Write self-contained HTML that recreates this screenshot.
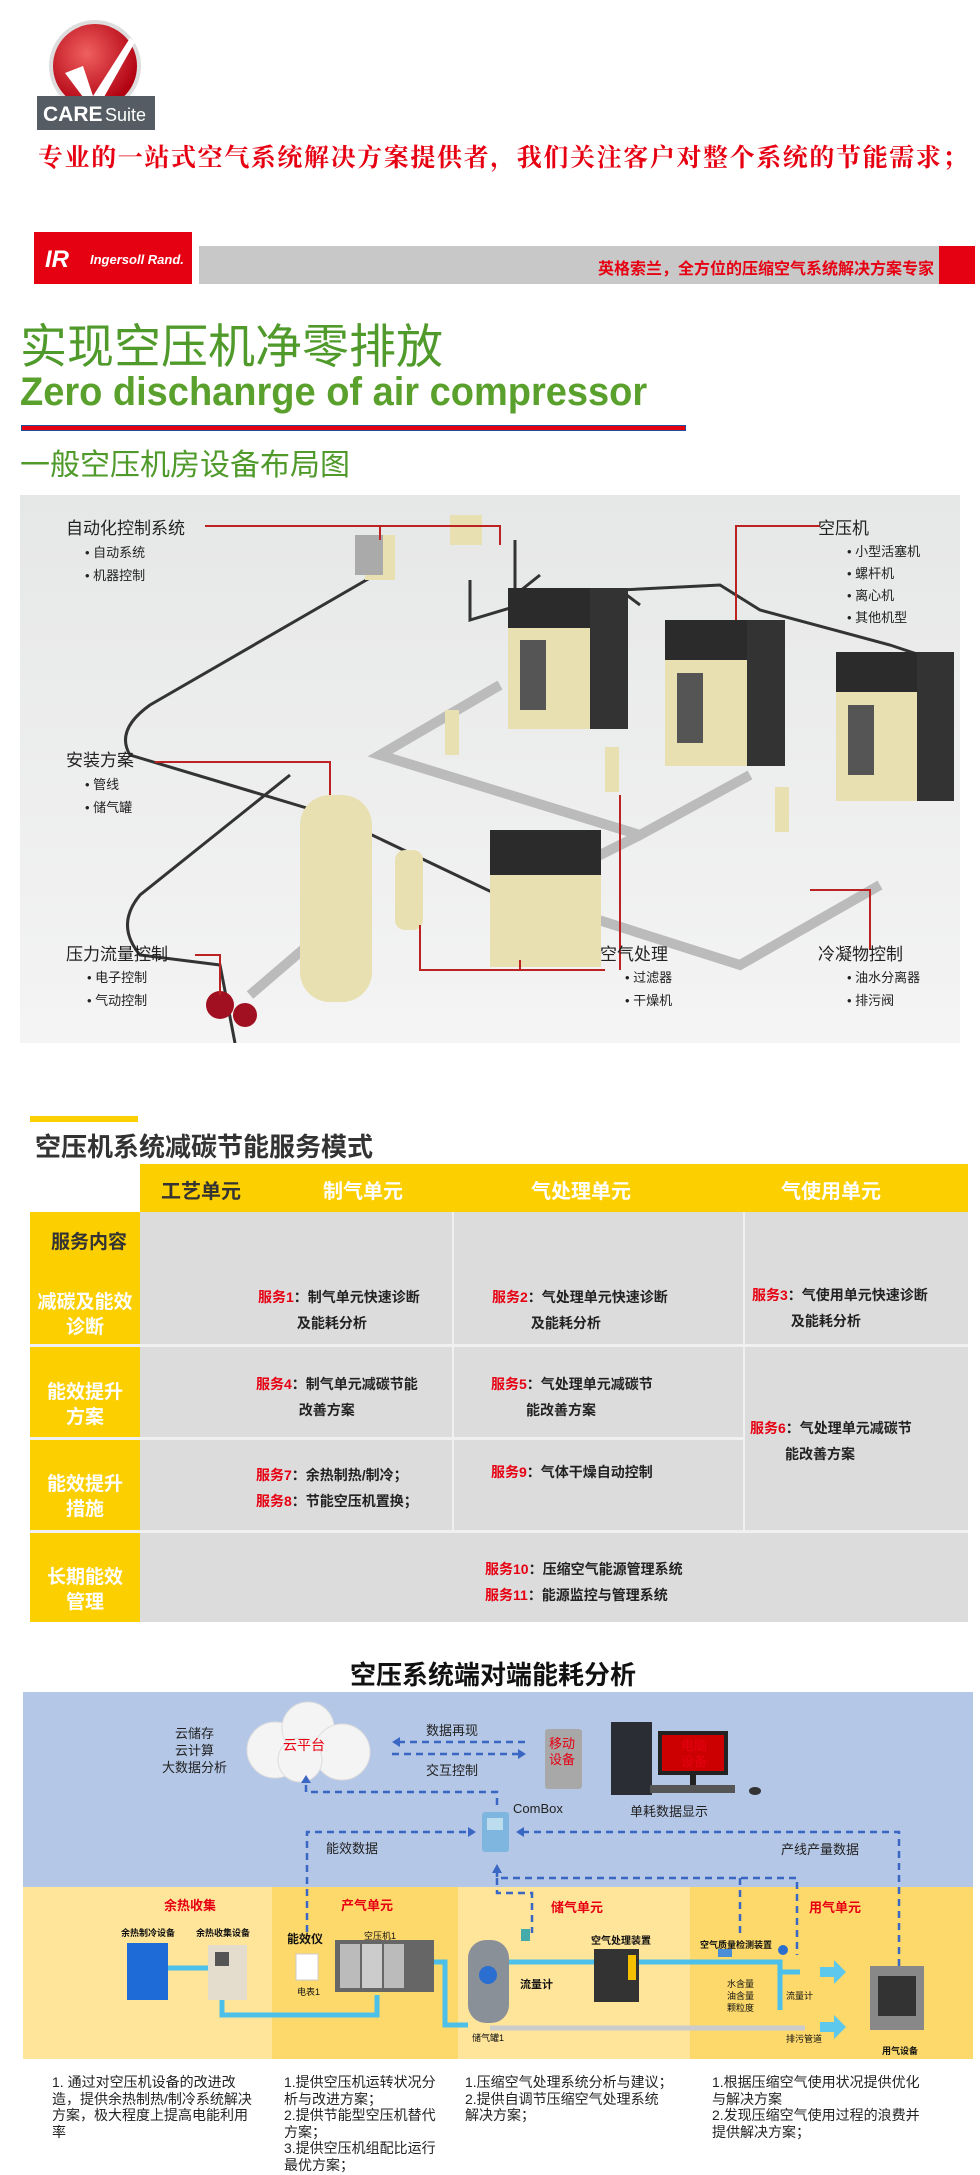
<!DOCTYPE html>
<html><head><meta charset="utf-8"><style>
*{margin:0;padding:0;box-sizing:border-box}
body{width:980px;height:2175px;background:#fff;position:relative;overflow:hidden;font-family:"Liberation Sans","Noto Sans CJK SC",sans-serif}
.a{position:absolute;white-space:nowrap}
.b{font-weight:bold}
.r{color:#e60012}
</style></head><body>

<svg class="a" style="left:35px;top:18px" width="130" height="115" viewBox="0 0 130 115">
<defs><radialGradient id="rg" cx="40%" cy="35%" r="65%"><stop offset="0" stop-color="#f06060"/><stop offset="1" stop-color="#b00010"/></radialGradient></defs>
<circle cx="60" cy="48" r="46" fill="#ddd"/><circle cx="60" cy="48" r="42" fill="url(#rg)"/>
<path d="M30 55 L48 48 L58 78 L95 20 L100 24 L60 95 Z" fill="#fff"/>
<rect x="2" y="78" width="118" height="34" fill="#555c63"/>
<text x="8" y="103" font-family="Liberation Sans" font-size="21" font-weight="bold" fill="#fff">CARE</text>
<text x="70" y="103" font-family="Liberation Sans" font-size="18" fill="#fff">Suite</text>
</svg>

<div class="a r b" style="left:38px;top:138px;font-size:25px;font-family:'Liberation Serif','Noto Serif CJK SC',serif;letter-spacing:1.6px">专业的一站式空气系统解决方案提供者，我们关注客户对整个系统的节能需求；</div>

<div class="a" style="left:34px;top:232px;width:158px;height:52px;background:#e50012"></div>
<div class="a b" style="left:45px;top:246px;color:#fff;font-size:24px;font-style:italic">IR</div>
<div class="a" style="left:90px;top:252px;color:#fff;font-size:13px;font-style:italic;font-weight:bold">Ingersoll Rand.</div>
<div class="a" style="left:199px;top:246px;width:740px;height:38px;background:#c8c8c8"></div>
<div class="a" style="left:939px;top:246px;width:36px;height:38px;background:#e50012"></div>
<div class="a r b" style="left:598px;top:255px;font-size:16px">英格索兰，全方位的压缩空气系统解决方案专家</div>

<div class="a" style="left:20px;top:308px;font-size:47px;color:#4f9a2a;font-family:'Liberation Sans','WenQuanYi Zen Hei',sans-serif">实现空压机净零排放</div>
<div class="a b" style="left:20px;top:370px;font-size:40px;color:#5aa02c;transform:scaleX(0.95);transform-origin:left">Zero dischanrge of air compressor</div>
<div class="a" style="left:21px;top:425px;width:665px;height:6px;background:#e50012;border:1px solid #1f4e9a"></div>
<div class="a" style="left:20px;top:440px;font-size:30px;color:#4f9a2a">一般空压机房设备布局图</div>

<svg class="a" style="left:20px;top:495px" width="940" height="548" viewBox="0 0 940 548">
<defs><linearGradient id="bg" x1="0" y1="0" x2="0" y2="1"><stop offset="0" stop-color="#e6e7e7"/><stop offset="1" stop-color="#f4f4f4"/></linearGradient></defs>
<rect width="940" height="548" fill="url(#bg)"/>
<g fill="none" stroke="#333" stroke-width="3">
<path d="M355 80 L130 210 Q95 235 110 260 L310 320 L520 420"/>
<path d="M270 280 L120 400 Q95 430 120 460 L200 470 L215 548"/>
<path d="M450 85 L450 125 L500 110 L600 95 L620 110"/>
<path d="M495 45 L495 100 L520 80"/>
<path d="M600 95 L700 90 L740 115 L870 150 L900 160"/>
</g>
<g stroke="#bbb" stroke-width="10" fill="none">
<path d="M480 190 L360 260 L620 340 L730 280"/>
<path d="M620 340 L500 400 L720 470 L860 390"/>
<path d="M300 440 L230 500"/>
</g>
<g>
<rect x="488" y="93" width="120" height="141" fill="#e8e0b0"/><rect x="488" y="93" width="120" height="40" fill="#2b2b2b"/><rect x="570" y="93" width="38" height="141" fill="#333"/><rect x="500" y="145" width="26" height="70" fill="#555"/>
<rect x="645" y="125" width="120" height="146" fill="#e8e0b0"/><rect x="645" y="125" width="120" height="40" fill="#2b2b2b"/><rect x="727" y="125" width="38" height="146" fill="#333"/><rect x="657" y="178" width="26" height="70" fill="#555"/>
<rect x="816" y="157" width="118" height="149" fill="#e8e0b0"/><rect x="816" y="157" width="118" height="40" fill="#2b2b2b"/><rect x="897" y="157" width="37" height="149" fill="#333"/><rect x="828" y="210" width="26" height="70" fill="#555"/>
<rect x="280" y="300" width="72" height="207" rx="30" fill="#e8e0b0"/>
<rect x="470" y="335" width="111" height="137" fill="#e8e0b0"/><rect x="470" y="335" width="111" height="45" fill="#2b2b2b"/>
<rect x="375" y="355" width="28" height="80" rx="10" fill="#e8e0b0"/>
<rect x="345" y="40" width="30" height="45" fill="#e8e0b0"/><rect x="430" y="20" width="32" height="30" fill="#e8e0b0"/><rect x="335" y="40" width="28" height="40" fill="#aaa"/>
<rect x="425" y="215" width="14" height="45" fill="#e8e0b0"/><rect x="585" y="252" width="14" height="45" fill="#e8e0b0"/><rect x="755" y="292" width="14" height="45" fill="#e8e0b0"/>
<circle cx="200" cy="510" r="14" fill="#a01020"/><circle cx="225" cy="520" r="12" fill="#a01020"/>
</g>
<g stroke="#b22" stroke-width="2" fill="none">
<path d="M185 31 L480 31 L480 50"/><path d="M360 31 L360 45"/>
<path d="M800 31 L716 31 L716 125"/>
<path d="M135 267 L310 267 L310 300"/>
<path d="M175 460 L200 460 L200 500"/>
<path d="M585 475 L400 475 L400 430"/><path d="M500 475 L500 465"/><path d="M600 475 L600 300"/>
<path d="M850 455 L850 395 L790 395"/>
</g>
</svg>
<div class="a" style="left:66px;top:514px;font-size:17px;color:#222">自动化控制系统</div>
<div class="a" style="left:85px;top:541px;font-size:13px;color:#222;line-height:23px">• 自动系统<br>• 机器控制</div>
<div class="a" style="left:818px;top:514px;font-size:17px;color:#222">空压机</div>
<div class="a" style="left:847px;top:541px;font-size:13px;color:#222;line-height:22px">• 小型活塞机<br>• 螺杆机<br>• 离心机<br>• 其他机型</div>
<div class="a" style="left:66px;top:746px;font-size:17px;color:#222">安装方案</div>
<div class="a" style="left:85px;top:773px;font-size:13px;color:#222;line-height:23px">• 管线<br>• 储气罐</div>
<div class="a" style="left:66px;top:940px;font-size:17px;color:#222">压力流量控制</div>
<div class="a" style="left:87px;top:966px;font-size:13px;color:#222;line-height:23px">• 电子控制<br>• 气动控制</div>
<div class="a" style="left:600px;top:940px;font-size:17px;color:#222">空气处理</div>
<div class="a" style="left:625px;top:966px;font-size:13px;color:#222;line-height:23px">• 过滤器<br>• 干燥机</div>
<div class="a" style="left:818px;top:940px;font-size:17px;color:#222">冷凝物控制</div>
<div class="a" style="left:847px;top:966px;font-size:13px;color:#222;line-height:23px">• 油水分离器<br>• 排污阀</div>

<div class="a" style="left:30px;top:1116px;width:108px;height:6px;background:#fccf00"></div>
<div class="a b" style="left:35px;top:1127px;font-size:26px;color:#333">空压机系统减碳节能服务模式</div>
<div class="a" style="left:140px;top:1164px;width:828px;height:48px;background:#fccf00"></div>
<div class="a" style="left:140px;top:1212px;width:828px;height:410px;background:#dcdcdc"></div>
<div class="a" style="left:30px;top:1212px;width:110px;height:410px;background:#fccf00"></div>
<div class="a" style="left:30px;top:1344px;width:938px;height:3px;background:#f0f0f0"></div>
<div class="a" style="left:30px;top:1437px;width:714px;height:3px;background:#f0f0f0"></div>
<div class="a" style="left:30px;top:1530px;width:938px;height:3px;background:#f0f0f0"></div>
<div class="a" style="left:452px;top:1212px;width:2px;height:318px;background:#f0f0f0"></div>
<div class="a" style="left:743px;top:1212px;width:2px;height:318px;background:#f0f0f0"></div>
<div class="a b" style="left:161px;top:1175px;font-size:20px;color:#333">工艺单元</div>
<div class="a b" style="left:323px;top:1175px;font-size:20px;color:#fff">制气单元</div>
<div class="a b" style="left:531px;top:1175px;font-size:20px;color:#fff">气处理单元</div>
<div class="a b" style="left:781px;top:1175px;font-size:20px;color:#fff">气使用单元</div>
<div class="a b" style="left:51px;top:1227px;font-size:19px;color:#333">服务内容</div>
<div class="a b" style="left:30px;top:1290px;width:110px;text-align:center;font-size:19px;color:#fff;line-height:25px">减碳及能效<br>诊断</div>
<div class="a b" style="left:30px;top:1380px;width:110px;text-align:center;font-size:19px;color:#fff;line-height:25px">能效提升<br>方案</div>
<div class="a b" style="left:30px;top:1472px;width:110px;text-align:center;font-size:19px;color:#fff;line-height:25px">能效提升<br>措施</div>
<div class="a b" style="left:30px;top:1565px;width:110px;text-align:center;font-size:19px;color:#fff;line-height:25px">长期能效<br>管理</div>
<div class="a b" style="left:258px;top:1284px;font-size:14px;color:#222;line-height:26px"><span class="r">服务1</span>：制气单元快速诊断<br>&nbsp;&nbsp;&nbsp;&nbsp;&nbsp;&nbsp;&nbsp;&nbsp;&nbsp;&nbsp;及能耗分析</div>
<div class="a b" style="left:492px;top:1284px;font-size:14px;color:#222;line-height:26px"><span class="r">服务2</span>：气处理单元快速诊断<br>&nbsp;&nbsp;&nbsp;&nbsp;&nbsp;&nbsp;&nbsp;&nbsp;&nbsp;&nbsp;及能耗分析</div>
<div class="a b" style="left:752px;top:1282px;font-size:14px;color:#222;line-height:26px"><span class="r">服务3</span>：气使用单元快速诊断<br>&nbsp;&nbsp;&nbsp;&nbsp;&nbsp;&nbsp;&nbsp;&nbsp;&nbsp;&nbsp;及能耗分析</div>
<div class="a b" style="left:256px;top:1371px;font-size:14px;color:#222;line-height:26px"><span class="r">服务4</span>：制气单元减碳节能<br>&nbsp;&nbsp;&nbsp;&nbsp;&nbsp;&nbsp;&nbsp;&nbsp;&nbsp;&nbsp;&nbsp;改善方案</div>
<div class="a b" style="left:491px;top:1371px;font-size:14px;color:#222;line-height:26px"><span class="r">服务5</span>：气处理单元减碳节<br>&nbsp;&nbsp;&nbsp;&nbsp;&nbsp;&nbsp;&nbsp;&nbsp;&nbsp;能改善方案</div>
<div class="a b" style="left:750px;top:1415px;font-size:14px;color:#222;line-height:26px"><span class="r">服务6</span>：气处理单元减碳节<br>&nbsp;&nbsp;&nbsp;&nbsp;&nbsp;&nbsp;&nbsp;&nbsp;&nbsp;能改善方案</div>
<div class="a b" style="left:256px;top:1462px;font-size:14px;color:#222;line-height:26px"><span class="r">服务7</span>：余热制热/制冷；<br><span class="r">服务8</span>：节能空压机置换；</div>
<div class="a b" style="left:491px;top:1462px;font-size:14px;color:#222"><span class="r">服务9</span>：气体干燥自动控制</div>
<div class="a b" style="left:485px;top:1556px;font-size:14px;color:#222;line-height:26px"><span class="r">服务10</span>：压缩空气能源管理系统<br><span class="r">服务11</span>：能源监控与管理系统</div>

<div class="a b" style="left:350px;top:1655px;font-size:26px;color:#111">空压系统端对端能耗分析</div>
<div class="a" style="left:23px;top:1692px;width:950px;height:195px;background:#b4c7e7"></div>
<div class="a" style="left:23px;top:1887px;width:249px;height:172px;background:#fee59a"></div>
<div class="a" style="left:272px;top:1887px;width:186px;height:172px;background:#fdd96b"></div>
<div class="a" style="left:458px;top:1887px;width:232px;height:172px;background:#fee59a"></div>
<div class="a" style="left:690px;top:1887px;width:283px;height:172px;background:#fdd96b"></div>

<svg class="a" style="left:0;top:1692px" width="980" height="370" viewBox="0 1692 980 370">
<g fill="#f4f4f4" stroke="#ddd"><circle cx="275" cy="1750" r="28"/><circle cx="308" cy="1728" r="26"/><circle cx="342" cy="1752" r="28"/><circle cx="300" cy="1760" r="22"/></g>
<g stroke="#3a66c4" stroke-width="2.5" stroke-dasharray="7,5" fill="none">
<path d="M525 1742 L395 1742"/><path d="M392 1754 L522 1754"/>
<path d="M497 1805 L497 1792 L306 1792 L306 1778"/>
<path d="M307 1932 L307 1832 L473 1832"/>
<path d="M899 1978 L899 1832 L520 1832"/>
<path d="M497 1870 L497 1878 L797 1878 L797 1955"/><path d="M740 1878 L740 1933"/>
<path d="M497 1878 L497 1893 L532 1893 L532 1933"/>
</g>
<g fill="#3a66c4"><path d="M392 1742 l8 -5 v10z"/><path d="M526 1754 l-8 -5 v10z"/><path d="M306 1775 l-5 8 h10z"/><path d="M476 1832 l-8 -5 v10z"/><path d="M516 1832 l8 -5 v10z"/><path d="M497 1864 l-5 9 h10z"/></g>
<rect x="545" y="1729" width="37" height="60" rx="3" fill="#a8a8a8"/>
<rect x="611" y="1722" width="41" height="73" fill="#2a2d33"/>
<rect x="658" y="1731" width="70" height="44" fill="#222"/><rect x="662" y="1735" width="62" height="36" fill="#c00"/>
<rect x="690" y="1775" width="6" height="10" fill="#222"/><rect x="650" y="1785" width="85" height="8" fill="#555"/><ellipse cx="755" cy="1791" rx="6" ry="4" fill="#333"/>
<rect x="482" y="1812" width="27" height="40" rx="3" fill="#7fb6e0"/><rect x="487" y="1818" width="16" height="12" fill="#bde"/>
<g stroke="#4cc0e8" stroke-width="5" fill="none">
<path d="M168 1968 L208 1968"/><path d="M222 2000 L222 2015 L377 2015 L377 1995"/>
<path d="M434 1962 L445 1962 L445 2025 L468 2025"/>
<path d="M509 1962 L594 1962"/><path d="M639 1962 L780 1962 L780 2010"/><path d="M780 1972 L800 1972"/>
</g>
<path d="M490 2028 L805 2028" stroke="#ccc" stroke-width="5"/>
<path d="M820 1967 h14 v-7 l12 12 -12 12 v-7 h-14z M820 2022 h14 v-7 l12 12 -12 12 v-7 h-14z" fill="#5ec8ec"/>
<rect x="127" y="1943" width="41" height="57" fill="#1e6ad6"/><rect x="208" y="1945" width="39" height="55" fill="#e4dccd"/><rect x="215" y="1952" width="14" height="14" fill="#555"/>
<rect x="296" y="1954" width="22" height="26" fill="#fff" stroke="#ccc"/>
<rect x="335" y="1940" width="99" height="52" fill="#666"/><rect x="340" y="1944" width="20" height="44" fill="#bbb"/><rect x="362" y="1944" width="20" height="44" fill="#ccc"/><rect x="384" y="1944" width="20" height="44" fill="#bbb"/>
<rect x="468" y="1940" width="41" height="83" rx="18" fill="#8a9098"/><circle cx="488" cy="1975" r="9" fill="#2a6fd0"/>
<rect x="594" y="1949" width="45" height="53" fill="#333"/><rect x="628" y="1955" width="8" height="25" fill="#f5c000"/>
<rect x="521" y="1929" width="9" height="12" fill="#4aa"/>
<rect x="718" y="1949" width="14" height="8" fill="#4a8ed8"/><circle cx="783" cy="1950" r="5" fill="#2a6fd0"/>
<rect x="870" y="1966" width="54" height="64" fill="#888"/><rect x="878" y="1976" width="38" height="40" fill="#333"/>
</svg>
<div class="a" style="left:162px;top:1725px;font-size:13px;color:#222;line-height:17px;text-align:center">云储存<br>云计算<br>大数据分析</div>
<div class="a r" style="left:283px;top:1735px;font-size:14px">云平台</div>
<div class="a" style="left:426px;top:1720px;font-size:13px;color:#222">数据再现</div>
<div class="a" style="left:426px;top:1760px;font-size:13px;color:#222">交互控制</div>
<div class="a r" style="left:549px;top:1736px;font-size:13px;line-height:16px">移动<br>设备</div>
<div class="a r" style="left:681px;top:1738px;font-size:13px;line-height:16px">电脑<br>设备</div>
<div class="a" style="left:513px;top:1801px;font-size:13px;color:#222">ComBox</div>
<div class="a" style="left:630px;top:1801px;font-size:13px;color:#222">单耗数据显示</div>
<div class="a" style="left:326px;top:1838px;font-size:13px;color:#222">能效数据</div>
<div class="a" style="left:781px;top:1839px;font-size:13px;color:#222">产线产量数据</div>
<div class="a r b" style="left:164px;top:1895px;font-size:13px">余热收集</div>
<div class="a r b" style="left:341px;top:1895px;font-size:13px">产气单元</div>
<div class="a r b" style="left:551px;top:1897px;font-size:13px">储气单元</div>
<div class="a r b" style="left:809px;top:1897px;font-size:13px">用气单元</div>
<div class="a b" style="left:121px;top:1926px;font-size:9px;color:#111">余热制冷设备</div>
<div class="a b" style="left:196px;top:1926px;font-size:9px;color:#111">余热收集设备</div>
<div class="a b" style="left:287px;top:1930px;font-size:12px;color:#111">能效仪</div>
<div class="a" style="left:364px;top:1929px;font-size:9px;color:#111">空压机1</div>
<div class="a" style="left:297px;top:1985px;font-size:9px;color:#111">电表1</div>
<div class="a b" style="left:591px;top:1932px;font-size:10px;color:#111">空气处理装置</div>
<div class="a b" style="left:700px;top:1938px;font-size:9px;color:#111">空气质量检测装置</div>
<div class="a b" style="left:520px;top:1976px;font-size:11px;color:#111">流量计</div>
<div class="a" style="left:727px;top:1978px;font-size:9px;color:#111;line-height:12px">水含量<br>油含量<br>颗粒度</div>
<div class="a" style="left:786px;top:1989px;font-size:9px;color:#111">流量计</div>
<div class="a" style="left:472px;top:2031px;font-size:9px;color:#111">储气罐1</div>
<div class="a" style="left:786px;top:2032px;font-size:9px;color:#111">排污管道</div>
<div class="a b" style="left:882px;top:2044px;font-size:9px;color:#111">用气设备</div>

<div class="a" style="left:52px;top:2074px;font-size:14px;color:#222;line-height:16.5px;white-space:normal;width:200px">1. 通过对空压机设备的改进改造，提供余热制热/制冷系统解决方案，极大程度上提高电能利用率</div>
<div class="a" style="left:284px;top:2074px;font-size:14px;color:#222;line-height:16.5px;white-space:normal;width:160px">1.提供空压机运转状况分析与改进方案；<br>2.提供节能型空压机替代方案；<br>3.提供空压机组配比运行最优方案；</div>
<div class="a" style="left:465px;top:2074px;font-size:14px;color:#222;line-height:16.5px">1.压缩空气处理系统分析与建议；<br>2.提供自调节压缩空气处理系统<br>解决方案；</div>
<div class="a" style="left:712px;top:2074px;font-size:14px;color:#222;line-height:16.5px">1.根据压缩空气使用状况提供优化<br>与解决方案<br>2.发现压缩空气使用过程的浪费并<br>提供解决方案；</div>
</body></html>
